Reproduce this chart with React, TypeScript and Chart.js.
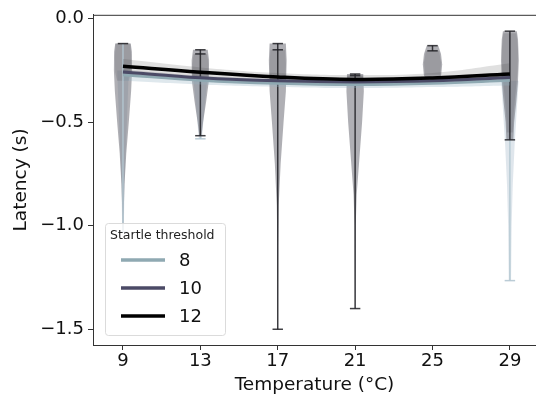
import React, { useEffect, useRef } from "react";
import { Chart, registerables } from "chart.js";

Chart.register(...registerables);

// ---- data ----
const temperatures = [9, 13, 17, 21, 25, 29];
const yTickValues = [0, -0.5, -1.0, -1.5];
const thresholdLabels = ["8", "10", "12"];
const thresholdColors = ["#8fa9b2", "#4b4a66", "#000000"];

const fit8 = [-0.27, -0.297, -0.312, -0.318, -0.312, -0.297];
const fit10 = [-0.257, -0.285, -0.3, -0.305, -0.3, -0.284];
const fit12 = [-0.229, -0.258, -0.281, -0.293, -0.286, -0.267];

const band8Upper = [-0.262, -0.29, -0.305, -0.311, -0.305, -0.288];
const band8Lower = [-0.3, -0.318, -0.33, -0.335, -0.33, -0.322];
const band10Upper = [-0.245, -0.275, -0.29, -0.295, -0.29, -0.27];
const band10Lower = [-0.275, -0.298, -0.31, -0.316, -0.312, -0.3];
const band12Upper = [-0.195, -0.235, -0.262, -0.272, -0.262, -0.215];
const band12Lower = [-0.262, -0.285, -0.298, -0.308, -0.304, -0.29];

// violin profiles: [latency value, half width in °C units]
const violinDark: number[][][] = [
  [[-0.12, 0.4], [-0.16, 0.46], [-0.25, 0.47], [-0.35, 0.42], [-0.5, 0.3], [-0.65, 0.17], [-0.8, 0.08], [-0.95, 0.03], [-1.02, 0.02]],
  [[-0.15, 0.38], [-0.2, 0.45], [-0.3, 0.44], [-0.4, 0.3], [-0.5, 0.14], [-0.565, 0.06]],
  [[-0.12, 0.42], [-0.2, 0.46], [-0.35, 0.42], [-0.5, 0.3], [-0.7, 0.15], [-0.9, 0.05], [-1.1, 0.02], [-1.5, 0.01]],
  [[-0.267, 0.42], [-0.35, 0.45], [-0.5, 0.36], [-0.7, 0.2], [-0.85, 0.08], [-1.0, 0.03], [-1.4, 0.01]],
  [[-0.13, 0.3], [-0.17, 0.44], [-0.22, 0.5], [-0.27, 0.45], [-0.29, 0.36]],
  [[-0.06, 0.36], [-0.1, 0.42], [-0.2, 0.46], [-0.3, 0.42], [-0.4, 0.33], [-0.5, 0.22], [-0.585, 0.18]],
];
const violinUpper: number[][][] = [
  [[-0.12, 0.38], [-0.18, 0.42], [-0.26, 0.4], [-0.3, 0.3]],
  [[-0.17, 0.35], [-0.22, 0.42], [-0.28, 0.4]],
  [[-0.15, 0.38], [-0.22, 0.42], [-0.3, 0.4]],
  [[-0.275, 0.4], [-0.3, 0.42]],
  [[-0.155, 0.34], [-0.21, 0.44], [-0.27, 0.4]],
  [[-0.07, 0.34], [-0.15, 0.42], [-0.25, 0.4], [-0.35, 0.3], [-0.45, 0.2], [-0.55, 0.15]],
];
const violinLight: number[][][] = [
  [[-0.25, 0.3], [-0.5, 0.2], [-0.8, 0.08], [-1.03, 0.04]],
  [[-0.3, 0.35], [-0.45, 0.2], [-0.58, 0.08]],
  [],
  [],
  [],
  [[-0.3, 0.45], [-0.45, 0.35], [-0.6, 0.25], [-0.8, 0.15], [-1.0, 0.09], [-1.265, 0.06]],
];
const capsDark = [[-0.12], [-0.15, -0.17, -0.565], [-0.12, -0.15, -1.5], [-0.267, -0.275, -1.4], [-0.13, -0.155], [-0.06, -0.585]];
const capsLight = [[-1.03], [-0.58], [], [], [], [-1.265]];

const FONT = "'DejaVu Sans', 'Liberation Sans', sans-serif";

function drawViolin(ctx: CanvasRenderingContext2D, xs: any, ys: any, xc: number, prof: number[][], fill: string) {
  if (!prof.length) return;
  const cx = xs.getPixelForValue(xc);
  const unit = xs.getPixelForValue(xc + 1) - cx;
  ctx.beginPath();
  prof.forEach((p, i) => {
    const y = ys.getPixelForValue(p[0]);
    const x = cx + p[1] * unit;
    if (i === 0) ctx.moveTo(x, y);
    else ctx.lineTo(x, y);
  });
  for (let i = prof.length - 1; i >= 0; i--) {
    const p = prof[i];
    ctx.lineTo(cx - p[1] * unit, ys.getPixelForValue(p[0]));
  }
  ctx.closePath();
  ctx.fillStyle = fill;
  ctx.fill();
}

const violinPlugin = {
  id: "violins",
  beforeDatasetsDraw(chart: any) {
    const ctx = chart.ctx as CanvasRenderingContext2D;
    const xs = chart.scales.x;
    const ys = chart.scales.y;
    ctx.save();
    temperatures.forEach((t, i) => {
      drawViolin(ctx, xs, ys, t, violinLight[i], "rgba(185,200,212,0.45)");
      drawViolin(ctx, xs, ys, t, violinDark[i], "rgba(95,95,105,0.5)");
      drawViolin(ctx, xs, ys, t, violinUpper[i], "rgba(95,95,105,0.25)");
      const cx = xs.getPixelForValue(t);
      const capW = (xs.getPixelForValue(t + 0.27) - cx);
      if (capsLight[i].length) {
        const all = capsDark[i];
        ctx.strokeStyle = "rgba(180,198,210,0.9)";
        ctx.lineWidth = 1.5;
        ctx.beginPath();
        ctx.moveTo(cx, ys.getPixelForValue(Math.min(...all)));
        ctx.lineTo(cx, ys.getPixelForValue(Math.min(...capsLight[i])));
        ctx.stroke();
        capsLight[i].forEach((v) => {
          const y = ys.getPixelForValue(v);
          ctx.beginPath();
          ctx.moveTo(cx - capW, y);
          ctx.lineTo(cx + capW, y);
          ctx.stroke();
        });
      }
      const vals = capsDark[i];
      ctx.strokeStyle = "rgba(30,30,35,0.85)";
      ctx.lineWidth = 1.5;
      ctx.beginPath();
      ctx.moveTo(cx, ys.getPixelForValue(Math.max(...vals)));
      ctx.lineTo(cx, ys.getPixelForValue(Math.min(...vals)));
      ctx.stroke();
      vals.forEach((v) => {
        const y = ys.getPixelForValue(v);
        ctx.beginPath();
        ctx.moveTo(cx - capW, y);
        ctx.lineTo(cx + capW, y);
        ctx.stroke();
      });
    });
    ctx.restore();
  },
  afterDraw(chart: any) {
    const ctx = chart.ctx as CanvasRenderingContext2D;
    const a = chart.chartArea;
    ctx.save();
    ctx.strokeStyle = "#333";
    ctx.lineWidth = 1;
    ctx.beginPath();
    ctx.moveTo(a.left, a.top + 0.5);
    ctx.lineTo(a.right + 5, a.top + 0.5);
    ctx.stroke();
    // legend
    const bx = 105, by = 223, bw = 120, bh = 112;
    ctx.fillStyle = "rgba(255,255,255,0.8)";
    ctx.strokeStyle = "rgba(215,215,215,0.9)";
    ctx.beginPath();
    (ctx as any).roundRect(bx + 0.5, by + 0.5, bw, bh, 3);
    ctx.fill();
    ctx.stroke();
    ctx.fillStyle = "#222";
    ctx.font = `12.5px ${FONT}`;
    ctx.textBaseline = "middle";
    ctx.textAlign = "left";
    ctx.fillText("Startle threshold", 110, 236);
    thresholdLabels.forEach((lab, i) => {
      const y = 260 + i * 28;
      ctx.strokeStyle = thresholdColors[i];
      ctx.lineWidth = 3.5;
      ctx.beginPath();
      ctx.moveTo(121, y);
      ctx.lineTo(165, y);
      ctx.stroke();
      ctx.fillStyle = "#111";
      ctx.font = `18px ${FONT}`;
      ctx.fillText(lab, 179, y + 1);
    });
    ctx.restore();
  },
};

function pts(vals: number[]) {
  return vals.map((v, i) => ({ x: temperatures[i], y: v }));
}

export default function App() {
  const ref = useRef<HTMLCanvasElement | null>(null);
  useEffect(() => {
    if (!ref.current) return;
    const lineDs = (data: number[], color: string, w: number) => ({
      type: "line" as const,
      data: pts(data),
      borderColor: color,
      borderWidth: w,
      pointRadius: 0,
      tension: 0.4,
      fill: false,
    });
    const bandDs = (data: number[], fill: any, bg: string) => ({
      type: "line" as const,
      data: pts(data),
      borderWidth: 0,
      borderColor: "rgba(0,0,0,0)",
      backgroundColor: bg,
      pointRadius: 0,
      tension: 0.4,
      fill,
    });
    const chart = new Chart(ref.current, {
      type: "line",
      data: {
        datasets: [
          lineDs(fit12, thresholdColors[2], 3.5),
          lineDs(fit10, thresholdColors[1], 3),
          lineDs(fit8, thresholdColors[0], 3),
          bandDs(band12Upper, false, "rgba(0,0,0,0)"),
          bandDs(band12Lower, "-1", "rgba(60,60,60,0.16)"),
          bandDs(band10Upper, false, "rgba(0,0,0,0)"),
          bandDs(band10Lower, "-1", "rgba(75,74,102,0.2)"),
          bandDs(band8Upper, false, "rgba(0,0,0,0)"),
          bandDs(band8Lower, "-1", "rgba(150,180,195,0.3)"),
        ],
      },
      options: {
        responsive: false,
        animation: false,
        devicePixelRatio: 1,
        layout: { padding: { left: 0, top: 11, right: 0, bottom: 0 } },
        plugins: { legend: { display: false }, tooltip: { enabled: false } },
        scales: {
          x: {
            type: "linear",
            min: 7.45,
            max: 30.35,
            afterFit: (s: any) => { s.height = 53; },
            afterBuildTicks: (s: any) => { s.ticks = temperatures.map((v) => ({ value: v })); },
            grid: { drawOnChartArea: false, drawTicks: true, tickLength: 5, color: "#333", tickWidth: 1 },
            border: { display: true, color: "#333", width: 1 },
            ticks: { font: { family: FONT, size: 18 }, color: "#111", padding: 1, maxRotation: 0 },
            title: { display: true, text: "Temperature (°C)", font: { family: FONT, size: 18.5 }, color: "#111", padding: { top: 0, bottom: 2 } },
          },
          y: {
            type: "linear",
            min: -1.576,
            max: 0.019,
            afterFit: (s: any) => { s.width = 93; },
            afterBuildTicks: (s: any) => { s.ticks = yTickValues.map((v) => ({ value: v })); },
            grid: { drawOnChartArea: false, drawTicks: true, tickLength: 5, color: "#333", tickWidth: 1 },
            border: { display: true, color: "#333", width: 1 },
            ticks: {
              font: { family: FONT, size: 18 },
              color: "#111",
              padding: 4,
              callback: (v: any) => (v === 0 ? "0.0" : "\u2212" + Math.abs(v).toFixed(1)),
            },
            title: { display: true, text: "Latency (s)", font: { family: FONT, size: 18.5 }, color: "#111", padding: { top: 10, bottom: 0 } },
          },
        },
      },
      plugins: [violinPlugin],
    } as any);
    return () => chart.destroy();
  }, []);
  return (
    <div style={{ position: "absolute", left: 0, top: 0, width: 536, height: 398, background: "#fff" }}>
      <canvas ref={ref} width={536} height={398} style={{ display: "block" }} />
    </div>
  );
}
